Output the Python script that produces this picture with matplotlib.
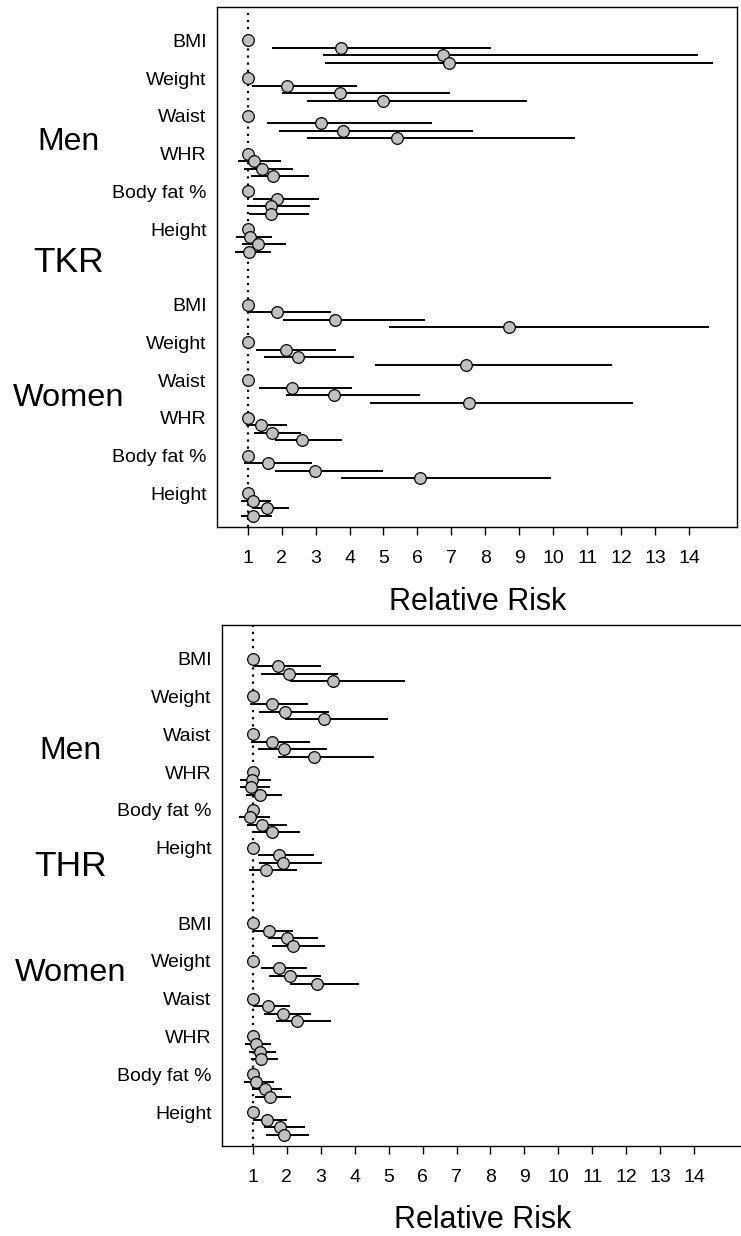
import numpy as np
import matplotlib
matplotlib.use("Agg")
import matplotlib.pyplot as plt

plt.rcParams['font.family'] = ['Liberation Sans', 'DejaVu Sans']

# Row labels (same for men and women, both panels)
variables = ["BMI", "Weight", "Waist", "WHR", "Body fat %", "Height"]
tick_values = list(range(1, 15))

# TKR - men: 3 categories per variable (reference = 1 not listed)
tkr_men_rr = [[3.75, 6.76, 6.93], [2.16, 3.73, 5.00], [3.16, 3.82, 5.39],
              [1.18, 1.43, 1.74], [1.87, 1.68, 1.68], [1.06, 1.31, 1.03]]
tkr_men_lo = [[1.72, 3.21, 3.28], [1.13, 2.02, 2.75], [1.57, 1.93, 2.75],
              [0.72, 0.90, 1.10], [1.16, 1.01, 1.03], [0.67, 0.84, 0.63]]
tkr_men_hi = [[8.17, 14.26, 14.69], [4.21, 6.95, 9.21], [6.42, 7.63, 10.63],
              [1.98, 2.35, 2.82], [3.09, 2.83, 2.81], [1.73, 2.13, 1.70]]

# TKR - women
tkr_women_rr = [[1.88, 3.56, 8.68], [2.13, 2.47, 7.44], [2.31, 3.54, 7.51],
                [1.41, 1.73, 2.60], [1.61, 2.99, 6.07], [1.16, 1.56, 1.16]]
tkr_women_lo = [[1.03, 2.05, 5.16], [1.26, 1.49, 4.76], [1.33, 2.12, 4.59],
                [0.94, 1.18, 1.81], [0.91, 1.81, 3.74], [0.81, 1.14, 0.81]]
tkr_women_hi = [[3.46, 6.23, 14.59], [3.61, 4.13, 11.72], [4.07, 6.07, 12.35],
                [2.17, 2.57, 3.78], [2.90, 5.00, 9.92], [1.69, 2.22, 1.73]]

# THR - men
thr_men_rr = [[1.74, 2.08, 3.37], [1.56, 1.95, 3.10], [1.58, 1.91, 2.80],
              [0.98, 0.95, 1.21], [0.92, 1.27, 1.57], [1.77, 1.89, 1.40]]
thr_men_lo = [[1.00, 1.24, 2.10], [0.92, 1.19, 1.96], [0.94, 1.17, 1.75],
              [0.64, 0.63, 0.82], [0.59, 0.84, 1.05], [1.17, 1.20, 0.89]]
thr_men_hi = [[3.00, 3.50, 5.49], [2.64, 3.24, 4.99], [2.69, 3.19, 4.56],
              [1.53, 1.51, 1.86], [1.51, 2.01, 2.39], [2.82, 3.03, 2.31]]

# THR - women
thr_women_rr = [[1.48, 2.02, 2.19], [1.77, 2.10, 2.90], [1.44, 1.90, 2.32],
                [1.10, 1.21, 1.24], [1.11, 1.36, 1.50], [1.42, 1.82, 1.91]]
thr_women_lo = [[1.02, 1.45, 1.56], [1.24, 1.49, 2.11], [1.02, 1.34, 1.68],
                [0.78, 0.90, 0.94], [0.76, 0.99, 1.07], [1.02, 1.34, 1.39]]
thr_women_hi = [[2.19, 2.91, 3.13], [2.61, 3.01, 4.12], [2.11, 2.72, 3.30],
                [1.53, 1.69, 1.74], [1.62, 1.88, 2.12], [2.00, 2.55, 2.66]]

fig = plt.figure(figsize=(7.41, 12.36), dpi=100)
ax_top = fig.add_axes([0.2928, 0.5734, 0.7022, 0.4212])
ax_bot = fig.add_axes([0.2996, 0.0728, 0.7022, 0.4215])


def draw_panel(ax, groups):
    ref_y = []
    for g, (rr, lo, hi) in enumerate(groups):
        for i in range(len(variables)):
            base = g * 35 + i * 5
            ref_y.append(base)
            ys = [base + 1, base + 2, base + 3]
            ax.hlines(ys, lo[i], hi[i], color='black', lw=1.4, zorder=2)
            ax.plot([1] + rr[i], [base] + ys, 'o', ms=8.4, mfc='#c0c0c0',
                    mec='black', mew=0.9, zorder=3, ls='none')
    ax.axvline(1, color='black', ls=(0, (1, 2.2)), lw=1.6, zorder=1)
    ax.set_xlim(0.1, 15.41)
    ax.set_ylim(64.5, -4.45)
    ax.set_yticks(ref_y)
    ax.set_yticklabels(variables * 2, fontsize=14)
    ax.tick_params(axis='y', length=0, pad=7.5)
    ax.set_xticks(tick_values)
    ax.set_xticklabels([str(v) for v in tick_values], fontsize=14)
    ax.tick_params(axis='x', length=5.5, width=1, pad=11)
    ax.set_xlabel("Relative Risk", fontsize=22, labelpad=14)
    for s in ax.spines.values():
        s.set_linewidth(1.0)


draw_panel(ax_top, [(tkr_men_rr, tkr_men_lo, tkr_men_hi),
                    (tkr_women_rr, tkr_women_lo, tkr_women_hi)])
draw_panel(ax_bot, [(thr_men_rr, thr_men_lo, thr_men_hi),
                    (thr_women_rr, thr_women_lo, thr_women_hi)])

# Group labels to the left of the panels
fig.text(0.093, 1 - 141.7 / 1236, "Men", fontsize=23, ha='center', va='center')
fig.text(0.093, 1 - 263 / 1236, "TKR", fontsize=25.5, ha='center', va='center')
fig.text(0.093, 1 - 398 / 1236, "Women", fontsize=23.4, ha='center', va='center')
fig.text(0.095, 1 - 751 / 1236, "Men", fontsize=23, ha='center', va='center')
fig.text(0.095, 1 - 866 / 1236, "THR", fontsize=25.5, ha='center', va='center')
fig.text(0.095, 1 - 972.7 / 1236, "Women", fontsize=23.4, ha='center', va='center')

fig.savefig("out.png", dpi=100)
